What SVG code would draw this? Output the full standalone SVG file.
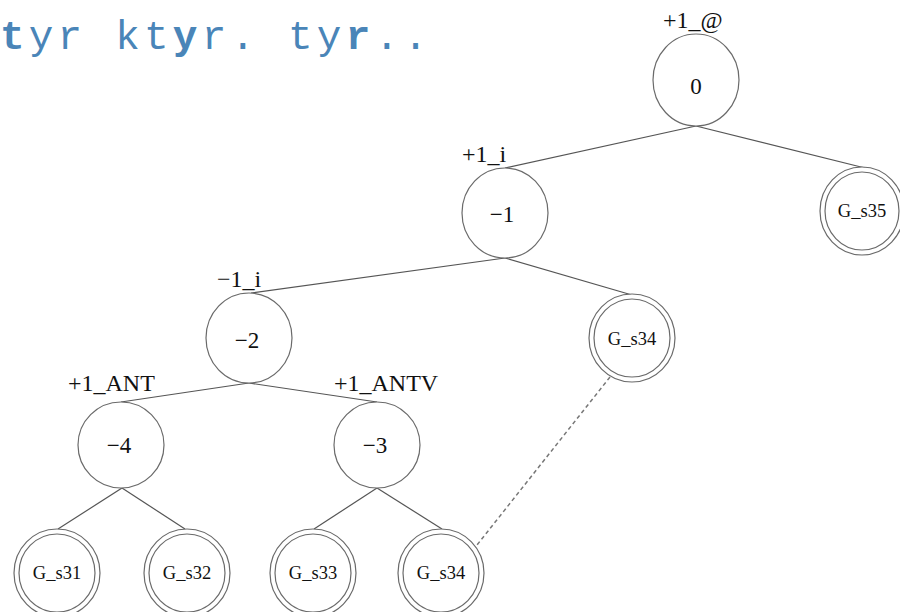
<svg xmlns="http://www.w3.org/2000/svg" width="900" height="612" viewBox="0 0 900 612">
<style>
.n{fill:#fff;stroke:#6a6a6a;stroke-width:1.2}
.e{stroke:#555;stroke-width:1.2;fill:none}
.d{stroke:#777;stroke-width:1.5;fill:none;stroke-dasharray:4 3}
.t{font-family:"Liberation Serif","Times New Roman",serif;font-size:23px;fill:#111;text-anchor:middle}
.g{font-family:"Liberation Serif","Times New Roman",serif;font-size:18.5px;fill:#111;text-anchor:middle}
.l{font-family:"Liberation Serif","Times New Roman",serif;font-size:24px;fill:#111}
.h{font-family:"Liberation Mono","Courier New",monospace;font-size:41px;fill:#4a85b8;letter-spacing:4.2px}
</style>
<rect width="900" height="612" fill="#fff"/>
<text class="h" x="0" y="49"><tspan font-weight="bold">t</tspan>yr kt<tspan font-weight="bold">y</tspan>r. ty<tspan font-weight="bold">r</tspan>..</text>
<g id="connectors">
<line class="e" x1="696" y1="126" x2="505" y2="168"/>
<line class="e" x1="696" y1="126" x2="865" y2="168"/>
<line class="e" x1="505" y1="258" x2="251" y2="293"/>
<line class="e" x1="505" y1="258" x2="632" y2="295"/>
<line class="e" x1="249" y1="383" x2="121" y2="402"/>
<line class="e" x1="249" y1="383" x2="377" y2="402"/>
<line class="e" x1="122" y1="488" x2="58" y2="529"/>
<line class="e" x1="122" y1="488" x2="185" y2="529"/>
<line class="e" x1="377" y1="488" x2="314" y2="529"/>
<line class="e" x1="377" y1="488" x2="442" y2="529"/>
<line class="d" x1="610" y1="377" x2="477" y2="545"/>
</g>
<g id="n0">
<ellipse class="n" cx="696" cy="80" rx="43" ry="46"/>
<text class="t" x="696" y="94">0</text>
<text class="l" x="663" y="28">+1_@</text>
</g>
<g id="n-1">
<ellipse class="n" cx="505" cy="213" rx="43" ry="45"/>
<text class="t" x="502" y="222">−1</text>
<text class="l" x="462" y="162">+1_i</text>
</g>
<g id="G_s35">
<ellipse class="n" cx="862" cy="211" rx="42" ry="44"/>
<ellipse class="n" cx="862" cy="211" rx="37" ry="39"/>
<text class="g" x="862" y="217">G_s35</text>
</g>
<g id="n-2">
<ellipse class="n" cx="249" cy="338" rx="43" ry="45"/>
<text class="t" x="247" y="348">−2</text>
<text class="l" x="217" y="287">−1_i</text>
</g>
<g id="G_s34a">
<ellipse class="n" cx="632" cy="338" rx="43" ry="44"/>
<ellipse class="n" cx="632" cy="338" rx="38" ry="39"/>
<text class="g" x="632" y="345">G_s34</text>
</g>
<g id="n-4">
<ellipse class="n" cx="121" cy="445" rx="43" ry="43"/>
<text class="t" x="119" y="453">−4</text>
<text class="l" x="68" y="391">+1_ANT</text>
</g>
<g id="n-3">
<ellipse class="n" cx="377" cy="445" rx="43" ry="43"/>
<text class="t" x="375" y="453">−3</text>
<text class="l" x="334" y="391">+1_ANTV</text>
</g>
<g id="G_s31">
<ellipse class="n" cx="57" cy="573" rx="43" ry="44"/>
<ellipse class="n" cx="57" cy="573" rx="38" ry="39"/>
<text class="g" x="57" y="579">G_s31</text>
</g>
<g id="G_s32">
<ellipse class="n" cx="187" cy="573" rx="43" ry="44"/>
<ellipse class="n" cx="187" cy="573" rx="38" ry="39"/>
<text class="g" x="187" y="579">G_s32</text>
</g>
<g id="G_s33">
<ellipse class="n" cx="313" cy="573" rx="43" ry="44"/>
<ellipse class="n" cx="313" cy="573" rx="38" ry="39"/>
<text class="g" x="313" y="579">G_s33</text>
</g>
<g id="G_s34b">
<ellipse class="n" cx="441" cy="573" rx="43" ry="44"/>
<ellipse class="n" cx="441" cy="573" rx="38" ry="39"/>
<text class="g" x="441" y="579">G_s34</text>
</g>
</svg>
